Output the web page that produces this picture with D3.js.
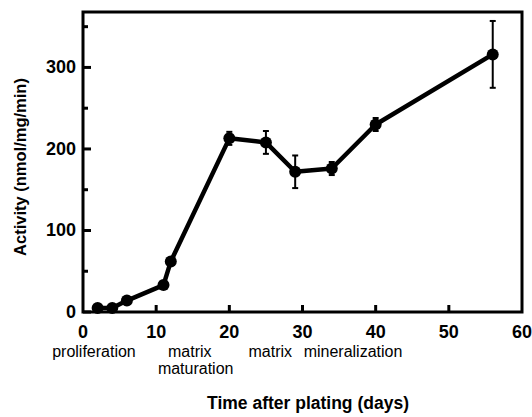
<!DOCTYPE html>
<html>
<head>
<meta charset="utf-8">
<script src="https://cdn.jsdelivr.net/npm/d3@7"></script>
<style>
  body { margin: 0; background: #fff; }
  svg text { font-family: "Liberation Sans", Arial, sans-serif; fill: #000; }
</style>
</head>
<body>
<div id="chart"></div>
<script>
var days = [2, 4, 6, 11, 12, 20, 25, 29, 34, 40, 56],
    activity = [5, 5, 14, 33, 62, 213, 208, 172, 176, 230, 316],
    errors = [0, 0, 0, 0, 0, 8, 14, 20, 8, 8, 41];

var xTicks = [0, 10, 20, 30, 40, 50, 60],
    yTicks = [0, 100, 200, 300],
    yMinor = [50, 150, 250, 350];

var stages = [
    {text: "proliferation", x: 1.5, row: 0},
    {text: "matrix", x: 14.6, row: 0},
    {text: "maturation", x: 15.4, row: 1},
    {text: "matrix", x: 25.6, row: 0},
    {text: "mineralization", x: 36.9, row: 0}
];

var width = 532, height = 417,
    margin = {top: 12, right: 10, bottom: 105, left: 83};

var svg = d3.select("#chart").append("svg")
    .attr("width", width)
    .attr("height", height);

var x = d3.scaleLinear()
    .domain([0, 60])
    .range([margin.left, width - margin.right]);

var y = d3.scaleLinear()
    .domain([0, 368])
    .range([height - margin.bottom, margin.top]);

// frame
svg.append("rect")
    .attr("x", x(0))
    .attr("y", y(368))
    .attr("width", x(60) - x(0))
    .attr("height", y(0) - y(368))
    .attr("fill", "none")
    .attr("stroke", "#000")
    .attr("stroke-width", 3);

// ticks (inside)
svg.selectAll(".ytick").data(yTicks.concat(yMinor)).enter().append("line")
    .attr("x1", x(0))
    .attr("x2", function (d) { return x(0) + (d % 100 == 0 ? 8 : 5); })
    .attr("y1", d => y(d)).attr("y2", d => y(d))
    .attr("stroke", "#000").attr("stroke-width", 3);

svg.selectAll(".xtick").data(xTicks.slice(1, 6)).enter().append("line")
    .attr("x1", d => x(d)).attr("x2", d => x(d))
    .attr("y1", y(0)).attr("y2", y(0) - 7)
    .attr("stroke", "#000").attr("stroke-width", 3);

// tick labels
svg.selectAll(".ylab").data(yTicks).enter().append("text")
    .attr("x", x(0) - 7)
    .attr("y", d => y(d) + 6)
    .attr("text-anchor", "end")
    .attr("font-size", 18)
    .attr("font-weight", "bold")
    .text(d => d);

svg.selectAll(".xlab").data(xTicks).enter().append("text")
    .attr("x", d => x(d))
    .attr("y", y(0) + 26)
    .attr("text-anchor", "middle")
    .attr("font-size", 18)
    .attr("font-weight", "bold")
    .text(d => d);

// stage labels
svg.selectAll(".stage").data(stages).enter().append("text")
    .attr("x", d => x(d.x))
    .attr("y", d => y(0) + 45 + d.row * 17)
    .attr("text-anchor", "middle")
    .attr("font-size", 16)
    .text(d => d.text);

// axis titles
svg.append("text")
    .attr("x", 308)
    .attr("y", height - 8)
    .attr("text-anchor", "middle")
    .attr("font-size", 17.5)
    .attr("font-weight", "bold")
    .text("Time after plating (days)");

svg.append("text")
    .attr("transform", "translate(26," + 167 + ") rotate(-90)")
    .attr("text-anchor", "middle")
    .attr("font-size", 16.5)
    .attr("font-weight", "bold")
    .text("Activity (nmol/mg/min)");

// error bars
var pts = days.map(function (d, i) { return {d: d, v: activity[i], e: errors[i]}; });
var eb = svg.selectAll(".err").data(pts.filter(p => p.e > 0)).enter().append("g");
eb.append("line")
    .attr("x1", p => x(p.d)).attr("x2", p => x(p.d))
    .attr("y1", p => y(p.v - p.e)).attr("y2", p => y(p.v + p.e))
    .attr("stroke", "#000").attr("stroke-width", 2);
eb.selectAll(".cap").data(p => [[p.d, p.v - p.e], [p.d, p.v + p.e]]).enter().append("line")
    .attr("x1", c => x(c[0]) - 3).attr("x2", c => x(c[0]) + 3)
    .attr("y1", c => y(c[1])).attr("y2", c => y(c[1]))
    .attr("stroke", "#000").attr("stroke-width", 2);

// line
var line = d3.line().x(p => x(p.d)).y(p => y(p.v));
svg.append("path")
    .datum(pts)
    .attr("d", line)
    .attr("fill", "none")
    .attr("stroke", "#000")
    .attr("stroke-width", 4.5)
    .attr("stroke-linejoin", "round");

svg.selectAll(".pt").data(pts).enter().append("circle")
    .attr("cx", p => x(p.d))
    .attr("cy", p => y(p.v))
    .attr("r", 6)
    .attr("fill", "#000");
</script>
</body>
</html>
